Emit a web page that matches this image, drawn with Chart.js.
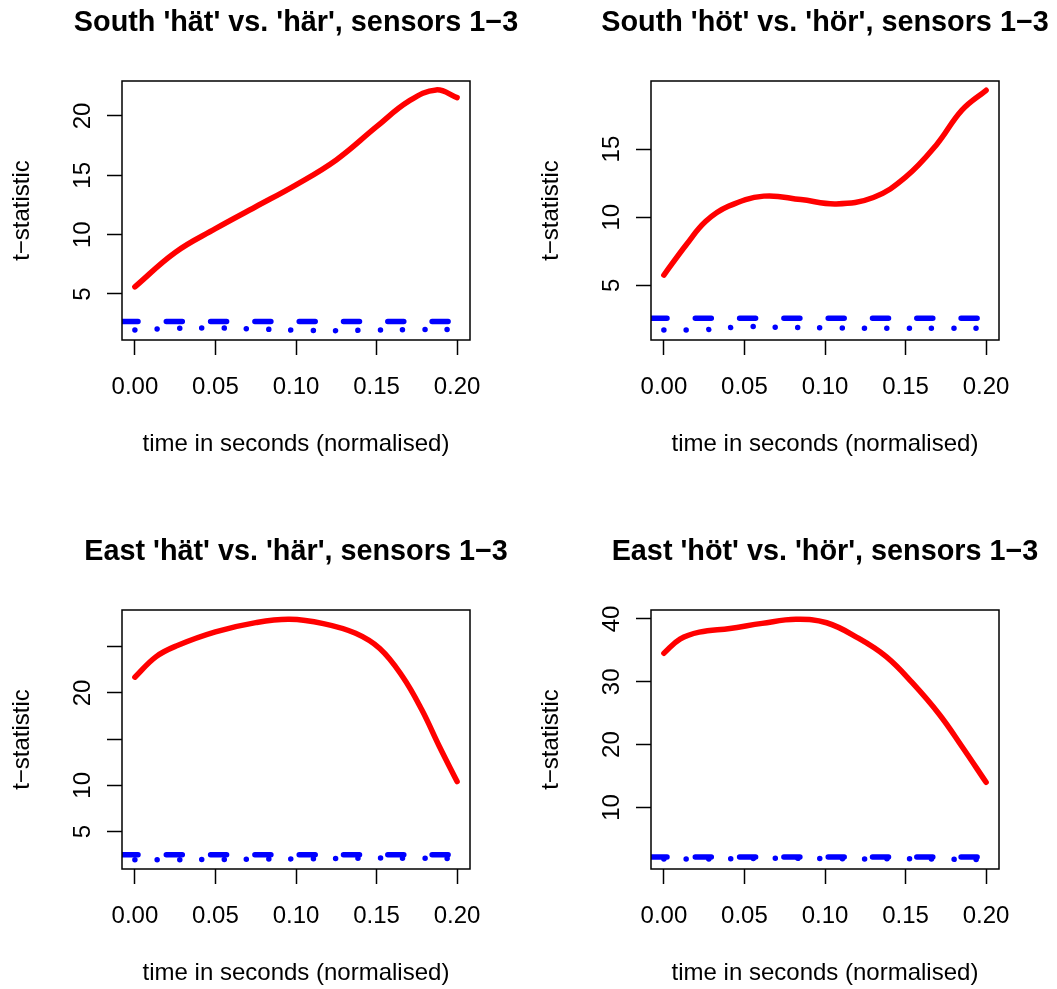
<!DOCTYPE html>
<html>
<head>
<meta charset="utf-8">
<script src="https://cdn.jsdelivr.net/npm/chart.js@4"></script>
<style>
    body { margin: 0; background: #fff; width: 1057px; height: 989px; position: relative; overflow: hidden; }
    canvas { position: absolute; }
</style>
</head>
<body>
<canvas id="c1" width="528" height="460" style="left:0;top:0;width:528px;height:460px"></canvas>
<canvas id="c2" width="528" height="460" style="left:529px;top:0;width:528px;height:460px"></canvas>
<canvas id="c3" width="528" height="460" style="left:0;top:529px;width:528px;height:460px"></canvas>
<canvas id="c4" width="528" height="460" style="left:529px;top:529px;width:528px;height:460px"></canvas>
<script>
// x axis (time, normalised)
const xTicks = [0, 0.05, 0.1, 0.15, 0.2];
const xRange = [-0.008, 0.208];
const dotTimes = [0, 0.025, 0.05, 0.075, 0.1, 0.125, 0.15, 0.175, 0.2];

// South 'hät' vs. 'här'
const southHatTimes = [0, 0.025, 0.05, 0.075, 0.1, 0.125, 0.15, 0.17, 0.187, 0.2];
const southHatT = [5.6, 8.5, 10.5, 12.35, 14.2, 16.3, 19.1, 21.25, 22.2, 21.55];
const southHatDotted = [1.97, 2.1, 2.13, 2.05, 1.95, 1.91, 1.96, 1.99, 2.02];
const southHatDashed = 2.67;
const southHatYTicks = [5, 10, 15, 20];
const southHatYLabels = ['5', '10', '15', '20'];

// South 'höt' vs. 'hör'
const southHotTimes = [0, 0.014, 0.026, 0.04, 0.062, 0.085, 0.107, 0.13, 0.15, 0.169, 0.185, 0.2];
const southHotT = [5.76, 8.0, 9.7, 10.8, 11.55, 11.3, 10.98, 11.45, 12.94, 15.29, 17.86, 19.32];
const southHotDotted = [1.72, 1.75, 1.97, 1.91, 1.89, 1.85, 1.85, 1.85, 1.85];
const southHotDashed = 2.58;
const southHotYTicks = [5, 10, 15];
const southHotYLabels = ['5', '10', '15'];

// East 'hät' vs. 'här'
const eastHatTimes = [0, 0.013, 0.026, 0.05, 0.075, 0.096, 0.117, 0.137, 0.152, 0.166, 0.178, 0.189, 0.2];
const eastHatT = [21.7, 23.9, 25.1, 26.6, 27.6, 27.96, 27.5, 26.45, 24.8, 21.8, 18.2, 14.2, 10.4];
const eastHatDotted = [1.94, 1.94, 1.97, 2.0, 2.04, 2.08, 2.12, 2.1, 2.06];
const eastHatDashed = 2.48;
const eastHatYTicks = [5, 10, 15, 20, 25];
const eastHatYLabels = ['5', '10', '', '20', ''];

// East 'höt' vs. 'hör'
const eastHotTimes = [0, 0.01, 0.022, 0.041, 0.061, 0.082, 0.101, 0.121, 0.138, 0.154, 0.171, 0.185, 0.2];
const eastHotT = [34.55, 36.8, 37.9, 38.5, 39.3, 39.94, 39.4, 36.9, 34.0, 29.9, 24.8, 19.7, 14.0];
const eastHotDotted = [1.79, 1.8, 1.85, 1.9, 1.85, 1.8, 1.85, 1.75, 1.7];
const eastHotDashed = 2.11;
const eastHotYTicks = [10, 20, 30, 40];
const eastHotYLabels = ['10', '20', '30', '40'];

const fontFamily = "'Liberation Sans', Arial, Helvetica, sans-serif";
Chart.defaults.font.family = fontFamily;
Chart.defaults.color = '#000';

// box round the plot region, like R's box(), and the main title centred over it
const framePlugin = {
    id: 'frame',
    afterDatasetsDraw(chart) {
        const a = chart.chartArea;
        const ctx = chart.ctx;
        ctx.save();
        ctx.strokeStyle = '#000';
        ctx.lineWidth = 1.5;
        ctx.strokeRect(a.left, a.top, a.right - a.left, a.bottom - a.top);
        ctx.restore();
    },
    afterDraw(chart, args, opts) {
        const a = chart.chartArea;
        const ctx = chart.ctx;
        ctx.save();
        ctx.fillStyle = '#000';
        ctx.font = 'bold 28.8px ' + fontFamily;
        ctx.textAlign = 'center';
        ctx.textBaseline = 'alphabetic';
        ctx.fillText(opts.text, (a.left + a.right) / 2, 31);
        ctx.restore();
    }
};

const axisGrid = {
    drawOnChartArea: false,
    tickLength: 15,
    tickWidth: 1.5,
    tickColor: '#000'
};

function makeChart(id, p) {
    return new Chart(document.getElementById(id), {
        type: 'line',
        data: {
            datasets: [{
                data: p.times.map((t, i) => ({ x: t, y: p.t[i] })),
                borderColor: '#ff0000',
                borderWidth: 5.5,
                borderCapStyle: 'round',
                borderJoinStyle: 'round',
                tension: 0.4,
                pointRadius: 0,
                clip: 0
            }, {
                data: xRange.map(x => ({ x: x, y: p.dashed })),
                borderColor: '#0000ff',
                borderWidth: 5.5,
                borderDash: [16, 28.3],
                borderCapStyle: 'round',
                pointRadius: 0,
                clip: 0
            }, {
                data: dotTimes.map((t, i) => ({ x: t, y: p.dotted[i] })),
                borderColor: '#0000ff',
                borderWidth: 5.5,
                borderDash: [0.01, 22.3],
                borderCapStyle: 'round',
                tension: 0.4,
                pointRadius: 0,
                clip: 0
            }]
        },
        options: {
            responsive: false,
            animation: false,
            events: [],
            layout: { padding: { left: 0, right: 58, top: 81, bottom: 0 } },
            plugins: {
                legend: { display: false },
                tooltip: { enabled: false },
                frame: { text: p.title }
            },
            scales: {
                x: {
                    type: 'linear',
                    min: xRange[0],
                    max: xRange[1],
                    afterBuildTicks: s => { s.ticks = xTicks.map(v => ({ value: v })); },
                    afterFit: s => { s.height = 120; },
                    grid: axisGrid,
                    border: { display: false },
                    ticks: {
                        color: '#000',
                        font: { size: 24 },
                        padding: 18,
                        maxRotation: 0,
                        autoSkip: false,
                        callback: v => v.toFixed(2)
                    },
                    title: {
                        display: true,
                        text: 'time in seconds (normalised)',
                        color: '#000',
                        font: { size: 24 },
                        padding: { top: 0, bottom: 1 }
                    }
                },
                y: {
                    type: 'linear',
                    min: p.yMin,
                    max: p.yMax,
                    afterBuildTicks: s => { s.ticks = p.yTicks.map(v => ({ value: v })); },
                    afterFit: s => { s.width = 122; },
                    grid: axisGrid,
                    border: { display: false },
                    ticks: {
                        color: '#000',
                        font: { size: 24 },
                        padding: 10,
                        minRotation: 90,
                        maxRotation: 90,
                        crossAlign: 'center',
                        autoSkip: false,
                        callback: (v, i) => p.yLabels[i]
                    },
                    title: {
                        display: true,
                        text: 't\u2212statistic',
                        color: '#000',
                        font: { size: 24 },
                        padding: { top: 8, bottom: 0 }
                    }
                }
            }
        },
        plugins: [framePlugin]
    });
}

makeChart('c1', {
    title: "South 'h\u00e4t' vs. 'h\u00e4r', sensors 1\u22123",
    times: southHatTimes, t: southHatT, dotted: southHatDotted, dashed: southHatDashed,
    yMin: 1.12, yMax: 22.95, yTicks: southHatYTicks, yLabels: southHatYLabels
});
makeChart('c2', {
    title: "South 'h\u00f6t' vs. 'h\u00f6r', sensors 1\u22123",
    times: southHotTimes, t: southHotT, dotted: southHotDotted, dashed: southHotDashed,
    yMin: 0.99, yMax: 20.0, yTicks: southHotYTicks, yLabels: southHotYLabels
});
makeChart('c3', {
    title: "East 'h\u00e4t' vs. 'h\u00e4r', sensors 1\u22123",
    times: eastHatTimes, t: eastHatT, dotted: eastHatDotted, dashed: eastHatDashed,
    yMin: 0.94, yMax: 28.97, yTicks: eastHatYTicks, yLabels: eastHatYLabels
});
makeChart('c4', {
    title: "East 'h\u00f6t' vs. 'h\u00f6r', sensors 1\u22123",
    times: eastHotTimes, t: eastHotT, dotted: eastHotDotted, dashed: eastHotDashed,
    yMin: 0.2, yMax: 41.43, yTicks: eastHotYTicks, yLabels: eastHotYLabels
});
</script>
</body>
</html>
